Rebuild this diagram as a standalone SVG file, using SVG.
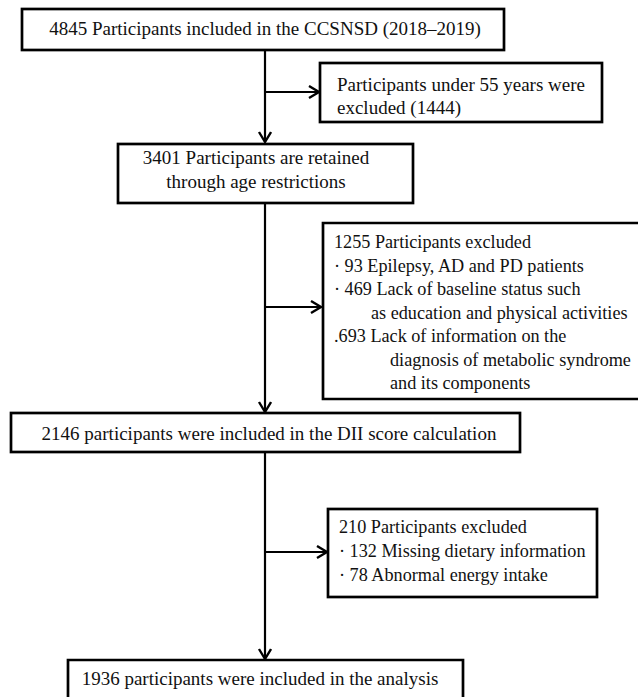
<svg xmlns="http://www.w3.org/2000/svg" width="638" height="697" viewBox="0 0 638 697">
<style>
.box{fill:#fff;stroke:#000;stroke-width:2.7}
.t{font-family:"Liberation Serif","Times New Roman",serif;font-size:19px;fill:#111}
.s{font-size:18.2px}
.c{text-anchor:middle}
.ln{stroke:#000;stroke-width:2.2;fill:none}
</style>
<defs>
<marker id="ah" markerUnits="userSpaceOnUse" markerWidth="14" markerHeight="16" refX="11" refY="7" orient="auto">
<path d="M1,1 L11,7 L1,13" fill="none" stroke="#000" stroke-width="2.4"/>
</marker>
</defs>
<rect width="638" height="697" fill="#fff"/>
<g id="connectors">
<line class="ln" x1="265" y1="50" x2="265" y2="142" marker-end="url(#ah)"/>
<line class="ln" x1="265" y1="92" x2="319" y2="92" marker-end="url(#ah)"/>
<line class="ln" x1="265" y1="203" x2="265" y2="412" marker-end="url(#ah)"/>
<line class="ln" x1="265" y1="307" x2="321" y2="307" marker-end="url(#ah)"/>
<line class="ln" x1="265" y1="452" x2="265" y2="659" marker-end="url(#ah)"/>
<line class="ln" x1="265" y1="552" x2="327" y2="552" marker-end="url(#ah)"/>
</g>
<g id="n1">
<rect class="box" x="22" y="9" width="482" height="41"/>
<text class="t c" x="265" y="35">4845 Participants included in the CCSNSD (2018–2019)</text>
</g>
<g id="n2">
<rect class="box" x="320" y="63" width="282" height="59"/>
<text class="t" x="337" y="91">Participants under 55 years were</text>
<text class="t" x="337" y="114">excluded (1444)</text>
</g>
<g id="n3">
<rect class="box" x="118" y="144" width="295" height="59"/>
<text class="t c" x="256" y="164">3401 Participants are retained</text>
<text class="t c" x="256" y="188">through age restrictions</text>
</g>
<g id="n4">
<path class="box" d="M640,223 H323 V399 H640"/>
<text class="t s" x="334" y="248">1255 Participants excluded</text>
<text class="t s" x="334" y="271.5">· 93 Epilepsy, AD and PD patients</text>
<text class="t s" x="334" y="295">· 469 Lack of baseline status such</text>
<text class="t s" x="371" y="318.5">as education and physical activities</text>
<text class="t s" x="334" y="342">.693 Lack of information on the</text>
<text class="t s" x="390" y="365.5">diagnosis of metabolic syndrome</text>
<text class="t s" x="390" y="389">and its components</text>
</g>
<g id="n5">
<rect class="box" x="11" y="413" width="509" height="39"/>
<text class="t c" x="269" y="440">2146 participants were included in the DII score calculation</text>
</g>
<g id="n6">
<rect class="box" x="328" y="509" width="269" height="88"/>
<text class="t s" x="339" y="533">210 Participants excluded</text>
<text class="t s" x="339" y="557">· 132 Missing dietary information</text>
<text class="t s" x="339" y="581">· 78 Abnormal energy intake</text>
</g>
<g id="n7">
<path class="box" d="M68,700 V660 H463 V700"/>
<text class="t c" x="260" y="685">1936 participants were included in the analysis</text>
</g>
</svg>
